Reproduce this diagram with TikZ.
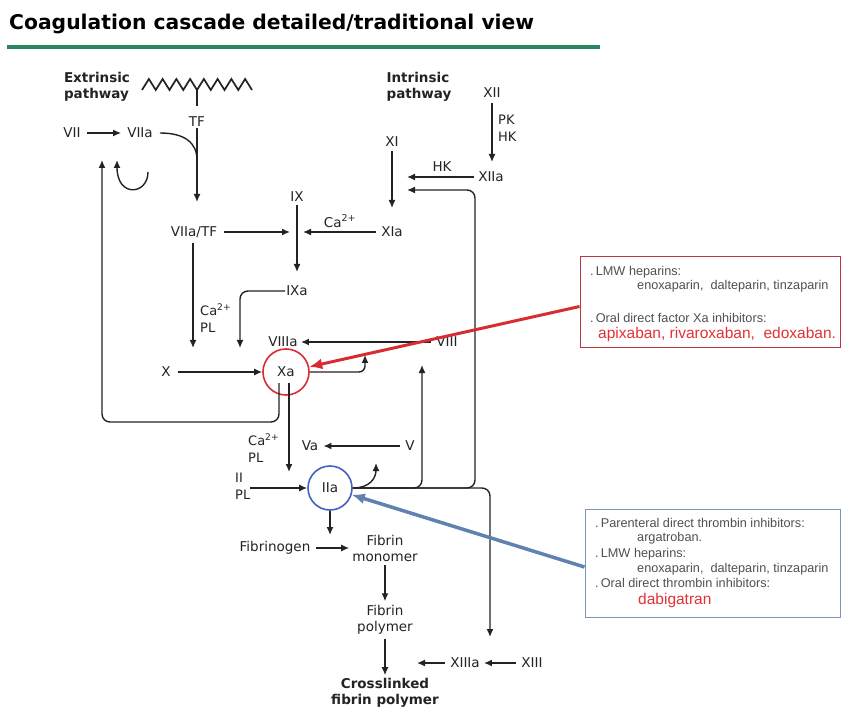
\documentclass[tikz,border=0pt]{standalone}
\usepackage{fontspec}
\setmainfont{DejaVu Sans}
\newfontfamily\notefont{Liberation Sans}
\usetikzlibrary{arrows.meta,calc}

\definecolor{linegray}{RGB}{35,35,35}
\definecolor{titlegreen}{RGB}{40,135,95}
\definecolor{xared}{RGB}{215,45,50}
\definecolor{iiablue}{RGB}{70,95,195}
\definecolor{boxred}{RGB}{185,55,65}
\definecolor{boxblue}{RGB}{125,150,190}
\definecolor{arrblue}{RGB}{95,130,175}
\definecolor{notegray}{RGB}{80,80,80}
\definecolor{drugred}{RGB}{225,50,55}

\tikzset{
  titletext/.style={font=\fontsize{20.3}{24}\selectfont\bfseries, anchor=base west, inner sep=0pt},
  fac/.style={font=\fontsize{13.5}{16}\selectfont, inner sep=1pt, text=linegray},
  pathname/.style={font=\fontsize{13.5}{16}\selectfont\bfseries, align=left, inner sep=0pt, text=linegray},
  cof/.style={font=\fontsize{13}{17}\selectfont, align=left, inner sep=0pt, anchor=west, text=linegray},
  arr/.style={draw=linegray, line width=1.4pt, -{Latex[length=8pt,width=7pt]}},
  zig/.style={draw=linegray, line width=1.7pt},
  xacirc/.style={fac, circle, draw=xared, line width=1.6pt, minimum size=46pt},
  iiacirc/.style={fac, circle, draw=iiablue, line width=1.6pt, minimum size=44pt},
  notebox/.style={rectangle, fill=white, line width=1pt, inner sep=0pt},
  note/.style={font=\notefont\fontsize{12.7}{15}\selectfont, text=notegray, anchor=base west, inner sep=0pt},
  drug/.style={font=\notefont\fontsize{15.5}{18}\selectfont, text=drugred, anchor=base west, inner sep=0pt},
}

\begin{document}
\begin{tikzpicture}[x=1pt,y=-1pt]
    \useasboundingbox (0,0) rectangle (843,708);

    % Title and green rule
    \node[titletext] (title) at (9,30) {Coagulation cascade detailed/traditional view};
    \draw[titlegreen, line width=4.5pt] (7,47) -- (600,47);

    % Extrinsic pathway
    \node[pathname] (ext) at (97,87) {Extrinsic\\pathway};
    \draw[zig] (142,90) \foreach \i in {1,...,16} { -- ({142+6.875*\i},{90-11*mod(\i,2)}) };
    \draw[zig] (197,90) -- (197,106);
    \node[fac] (tf) at (197,122) {TF};
    \node[fac] (vii) at (72,133) {VII};
    \node[fac] (viia) at (140,133) {VIIa};
    \node[fac] (viiatf) at (194,232) {VIIa/TF};
    \coordinate (tfj) at (197,160);
    \coordinate (tfend) at (197,202);
    \coordinate (viiaup) at (117,160);
    \coordinate (arcs) at (148,172);

    \draw[arr, shorten <=5pt, shorten >=5pt] (vii) -- (viia);
    \draw[linegray, line width=1.4pt] ([xshift=6pt]viia.east) .. controls (185,133) and (197,143) .. (tfj);
    \draw[arr] (tf.south) -- (tfend);
    \draw[arr] (arcs) .. controls (148,195) and (117,198) .. (viiaup);

    % Intrinsic pathway
    \node[pathname] (int) at (419,87) {Intrinsic\\pathway};
    \node[fac] (xii) at (492,93) {XII};
    \node[cof] (pkhk) at (498,128) {PK\\HK};
    \node[fac] (xiia) at (491,177) {XIIa};
    \node[fac] (hk) at (442,167) {HK};
    \node[fac] (xi) at (392,142) {XI};
    \node[fac] (xia) at (392,232) {XIa};
    \node[fac] (caxia) at (340,221) {Ca\textsuperscript{2+}};
    \node[fac] (ix) at (297,197) {IX};
    \node[fac] (ixa) at (297,291) {IXa};
    \coordinate (xiiend) at (492,162);
    \coordinate (xiin) at (407,177);
    \coordinate (xiin2) at (407,190);
    \coordinate (xitip) at (392,208);
    \coordinate (ixl) at (290,232);
    \coordinate (ixr) at (303,232);
    \coordinate (ixtip) at (297,272);

    \draw[arr, shorten <=4pt] (xii.south) -- (xiiend);
    \draw[arr, shorten <=3pt] (xiia) -- (xiin);
    \draw[arr, shorten <=3pt] (xi.south) -- (xitip);
    \draw[arr, shorten <=6pt] (viiatf.east) -- (ixl);
    \draw[arr, shorten <=4pt] (xia.west) -- (ixr);
    \draw[arr, shorten <=2pt] (ix.south) -- (ixtip);

    % Common pathway
    \node[cof] (cafx) at (200,318) {Ca\textsuperscript{2+}\\PL};
    \node[fac] (x) at (166,372) {X};
    \node[xacirc] (xa) at (286,372) {Xa};
    \node[fac] (viiia) at (283,342) {VIIIa};
    \node[fac] (viii) at (447,342) {VIII};
    \node[cof] (caxa) at (248,448) {Ca\textsuperscript{2+}\\PL};
    \node[fac] (va) at (310,446) {Va};
    \node[fac] (v) at (410,446) {V};
    \node[cof] (iipl) at (235,486) {II\\PL};
    \node[iiacirc] (iia) at (330,488) {IIa};
    \coordinate (xleft) at (193,348);
    \coordinate (viiiaj) at (240,348);
    \coordinate (xafb) at (365,355);
    \coordinate (loopc) at (102,422);
    \coordinate (viiup) at (102,160);
    \coordinate (iiatip) at (289,472);
    \coordinate (vaup) at (376,463);
    \coordinate (viiiup) at (422,365);
    \coordinate (xibend) at (475,190);
    \coordinate (xiiitip) at (490,637);

    \draw[arr, shorten <=4pt] (viiatf.south -| xleft) -- (xleft);
    \draw[arr, rounded corners=8pt] (ixa.west) -| (viiiaj);
    \draw[arr, shorten <=6pt] (x) -- (xa);
    \draw[arr, shorten <=4pt, shorten >=2pt] (viii) -- (viiia);
    \draw[arr, rounded corners=6pt] (xa.east) -| (xafb);
    \draw[arr, rounded corners=8pt] ($(xa)+(-7,11)$) |- (loopc) -- (viiup);
    \draw[arr] ($(xa)+(3,11)$) -- (iiatip);
    \draw[arr, shorten <=4pt, shorten >=4pt] (v) -- (va);
    \draw[arr] (iipl.east |- iia) -- (iia);
    \draw[arr] (iia.east) .. controls (370,488) and (376,478) .. (vaup);
    \draw[arr, rounded corners=8pt] (iia.east) -| (viiiup);
    \draw[arr, rounded corners=8pt] (iia.east) -| (xibend) -- (xiin2);
    \draw[arr, rounded corners=8pt] (iia.east) -| (xiiitip);

    % Fibrin formation
    \node[fac] (fibgen) at (275,548) {Fibrinogen};
    \node[fac, align=center] (mono) at (385,548) {Fibrin\\monomer};
    \node[fac, align=center] (poly) at (385,620) {Fibrin\\polymer};
    \node[pathname, align=center] (cross) at (385,693) {Crosslinked\\fibrin polymer};
    \node[fac] (xiiia) at (465,663) {XIIIa};
    \node[fac] (xiii) at (532,663) {XIII};
    \coordinate (fibj) at (330,535);
    \coordinate (xiiiend) at (417,663);

    \draw[arr] (iia) -- (fibj);
    \draw[arr, shorten <=4pt, shorten >=2pt] (fibgen) -- (mono);
    \draw[arr, shorten <=3pt, shorten >=3pt] (mono) -- (poly);
    \draw[arr, shorten <=3pt, shorten >=3pt] (poly) -- (cross);
    \draw[arr, shorten <=4pt] (xiiia) -- (xiiiend);
    \draw[arr, shorten <=4pt, shorten >=3pt] (xiii) -- (xiiia);

    % Inhibitor notes
    \node[notebox, draw=boxred, minimum width=260pt, minimum height=91pt] (redbox) at (710,302.5) {};
    \node[note] (redl1) at (590,275.5) {.\,LMW heparins:};
    \node[note] (redl2) at (637,289.5) {enoxaparin,\ \ dalteparin, tinzaparin};
    \node[note] (redl3) at (590,322.5) {.\,Oral direct factor Xa inhibitors:};
    \node[drug] (redl4) at (598,338.5) {apixaban, rivaroxaban,\ \ edoxaban.};

    \node[notebox, draw=boxblue, minimum width=255pt, minimum height=108pt] (bluebox) at (712.5,563) {};
    \node[note] (blul1) at (595,527.5) {.\,Parenteral direct thrombin inhibitors:};
    \node[note] (blul2) at (637,541.5) {argatroban.};
    \node[note] (blul3) at (595,557.5) {.\,LMW heparins:};
    \node[note] (blul4) at (637,572.5) {enoxaparin,\ \ dalteparin, tinzaparin};
    \node[note] (blul5) at (595,587.5) {.\,Oral direct thrombin inhibitors:};
    \node[drug] (blul6) at (638,604.5) {dabigatran};

    \draw[xared, line width=3pt, -{Latex[length=13pt,width=11pt]}] ([yshift=-4pt]redbox.west) -- (xa);
    \draw[arrblue, line width=3.5pt, -{Latex[length=13pt,width=11pt]}] ([yshift=-4pt]bluebox.west) -- (iia);
\end{tikzpicture}
\end{document}
